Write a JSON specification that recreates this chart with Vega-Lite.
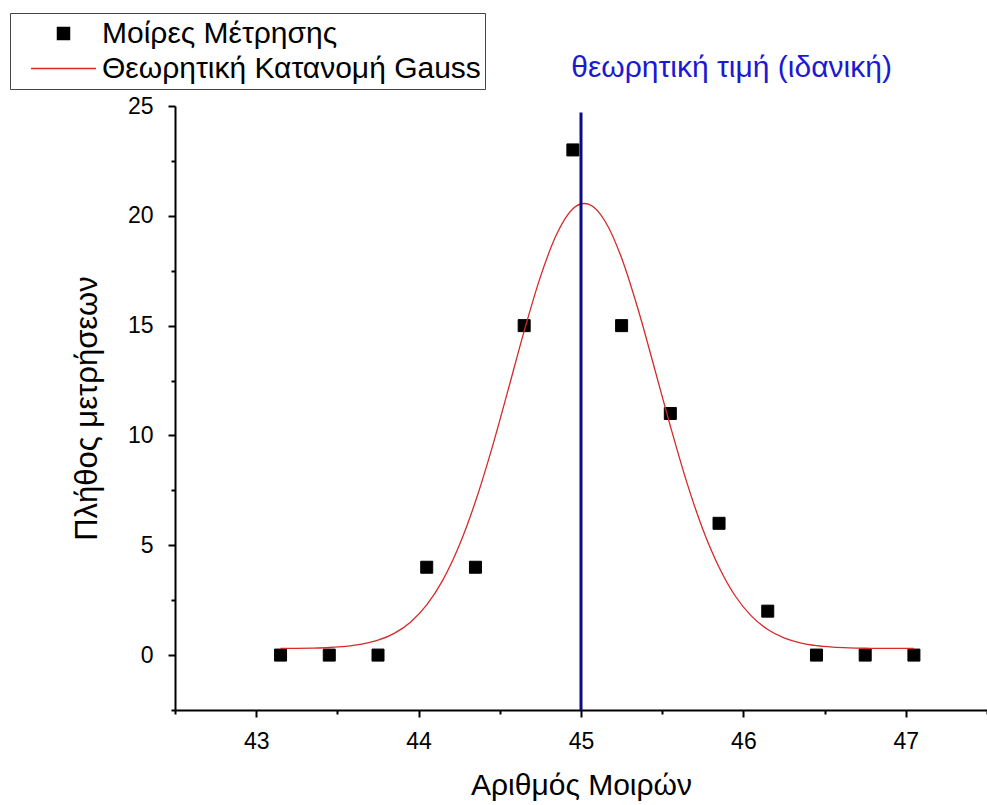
{
  "$schema": "https://vega.github.io/schema/vega-lite/v6.json",
  "width": 812,
  "height": 604,
  "autosize": {"type": "none"},
  "padding": {"left": 175, "top": 106, "right": 0, "bottom": 95},
  "background": "white",
  "config": {
    "view": {"stroke": null},
    "font": "Liberation Sans",
    "axis": {
      "grid": false,
      "domainColor": "black",
      "tickColor": "black",
      "domainWidth": 2,
      "tickWidth": 2,
      "labelColor": "black",
      "titleColor": "black",
      "labelFont": "Liberation Sans",
      "titleFont": "Liberation Sans",
      "titleFontWeight": "normal"
    },
    "legend": {"symbolStrokeWidth": 1.5}
  },
  "datasets": {
    "points": [
      {"x": 43.15, "y": 0, "series": "Μοίρες Μέτρησης"},
      {"x": 43.45, "y": 0, "series": "Μοίρες Μέτρησης"},
      {"x": 43.75, "y": 0, "series": "Μοίρες Μέτρησης"},
      {"x": 44.05, "y": 4, "series": "Μοίρες Μέτρησης"},
      {"x": 44.35, "y": 4, "series": "Μοίρες Μέτρησης"},
      {"x": 44.65, "y": 15, "series": "Μοίρες Μέτρησης"},
      {"x": 44.95, "y": 23, "series": "Μοίρες Μέτρησης"},
      {"x": 45.25, "y": 15, "series": "Μοίρες Μέτρησης"},
      {"x": 45.55, "y": 11, "series": "Μοίρες Μέτρησης"},
      {"x": 45.85, "y": 6, "series": "Μοίρες Μέτρησης"},
      {"x": 46.15, "y": 2, "series": "Μοίρες Μέτρησης"},
      {"x": 46.45, "y": 0, "series": "Μοίρες Μέτρησης"},
      {"x": 46.75, "y": 0, "series": "Μοίρες Μέτρησης"},
      {"x": 47.05, "y": 0, "series": "Μοίρες Μέτρησης"}
    ],
    "gauss": [
      {"x": 43.15, "y": 0.304, "series": "Θεωρητική Κατανομή Gauss"},
      {"x": 43.25, "y": 0.309, "series": "Θεωρητική Κατανομή Gauss"},
      {"x": 43.35, "y": 0.321, "series": "Θεωρητική Κατανομή Gauss"},
      {"x": 43.45, "y": 0.346, "series": "Θεωρητική Κατανομή Gauss"},
      {"x": 43.55, "y": 0.398, "series": "Θεωρητική Κατανομή Gauss"},
      {"x": 43.65, "y": 0.497, "series": "Θεωρητική Κατανομή Gauss"},
      {"x": 43.75, "y": 0.678, "series": "Θεωρητική Κατανομή Gauss"},
      {"x": 43.85, "y": 0.989, "series": "Θεωρητική Κατανομή Gauss"},
      {"x": 43.95, "y": 1.499, "series": "Θεωρητική Κατανομή Gauss"},
      {"x": 44.05, "y": 2.285, "series": "Θεωρητική Κατανομή Gauss"},
      {"x": 44.15, "y": 3.426, "series": "Θεωρητική Κατανομή Gauss"},
      {"x": 44.25, "y": 4.987, "series": "Θεωρητική Κατανομή Gauss"},
      {"x": 44.35, "y": 6.99, "series": "Θεωρητική Κατανομή Gauss"},
      {"x": 44.45, "y": 9.38, "series": "Θεωρητική Κατανομή Gauss"},
      {"x": 44.55, "y": 12.04, "series": "Θεωρητική Κατανομή Gauss"},
      {"x": 44.65, "y": 14.75, "series": "Θεωρητική Κατανομή Gauss"},
      {"x": 44.75, "y": 17.22, "series": "Θεωρητική Κατανομή Gauss"},
      {"x": 44.85, "y": 19.16, "series": "Θεωρητική Κατανομή Gauss"},
      {"x": 44.95, "y": 20.32, "series": "Θεωρητική Κατανομή Gauss"},
      {"x": 45.02, "y": 20.56, "series": "Θεωρητική Κατανομή Gauss"},
      {"x": 45.05, "y": 20.52, "series": "Θεωρητική Κατανομή Gauss"},
      {"x": 45.15, "y": 19.73, "series": "Θεωρητική Κατανομή Gauss"},
      {"x": 45.25, "y": 18.08, "series": "Θεωρητική Κατανομή Gauss"},
      {"x": 45.35, "y": 15.78, "series": "Θεωρητική Κατανομή Gauss"},
      {"x": 45.45, "y": 13.13, "series": "Θεωρητική Κατανομή Gauss"},
      {"x": 45.55, "y": 10.43, "series": "Θεωρητική Κατανομή Gauss"},
      {"x": 45.65, "y": 7.9, "series": "Θεωρητική Κατανομή Gauss"},
      {"x": 45.75, "y": 5.73, "series": "Θεωρητική Κατανομή Gauss"},
      {"x": 45.85, "y": 4.0, "series": "Θεωρητική Κατανομή Gauss"},
      {"x": 45.95, "y": 2.69, "series": "Θεωρητική Κατανομή Gauss"},
      {"x": 46.05, "y": 1.775, "series": "Θεωρητική Κατανομή Gauss"},
      {"x": 46.15, "y": 1.165, "series": "Θεωρητική Κατανομή Gauss"},
      {"x": 46.25, "y": 0.783, "series": "Θεωρητική Κατανομή Gauss"},
      {"x": 46.35, "y": 0.557, "series": "Θεωρητική Κατανομή Gauss"},
      {"x": 46.45, "y": 0.43, "series": "Θεωρητική Κατανομή Gauss"},
      {"x": 46.55, "y": 0.363, "series": "Θεωρητική Κατανομή Gauss"},
      {"x": 46.65, "y": 0.329, "series": "Θεωρητική Κατανομή Gauss"},
      {"x": 46.75, "y": 0.312, "series": "Θεωρητική Κατανομή Gauss"},
      {"x": 46.85, "y": 0.305, "series": "Θεωρητική Κατανομή Gauss"},
      {"x": 46.95, "y": 0.302, "series": "Θεωρητική Κατανομή Gauss"},
      {"x": 47.05, "y": 0.301, "series": "Θεωρητική Κατανομή Gauss"}
    ],
    "ideal": [
      {"x": 45.0, "y1": -2.5, "y2": 24.7, "label": "θεωρητική τιμή (ιδανική)", "labelX": 44.94, "labelY": 26.3}
    ]
  },
  "layer": [
    {
      "data": {"name": "points"},
      "mark": {"type": "point", "filled": true, "strokeWidth": 1, "opacity": 1},
      "encoding": {
        "x": {
          "field": "x", "type": "quantitative",
          "scale": {"domain": [42.5, 47.5], "nice": false, "zero": false},
          "axis": {"orient": "bottom", "values": [43, 44, 45, 46, 47], "tickSize": 7, "labelFontSize": 23, "labelPadding": 13, "title": "Αριθμός Μοιρών", "titleFontSize": 30, "titlePadding": 17, "format": "d"}
        },
        "y": {
          "field": "y", "type": "quantitative",
          "scale": {"domain": [-2.5, 25], "nice": false, "zero": false},
          "axis": {"orient": "left", "values": [0, 5, 10, 15, 20, 25], "tickSize": 7, "labelFontSize": 23, "labelPadding": 15, "title": "Πλήθος μετρήσεων", "titleFontSize": 31, "titlePadding": 24, "format": "d"}
        },
        "color": {
          "field": "series", "type": "nominal",
          "scale": {"domain": ["Μοίρες Μέτρησης", "Θεωρητική Κατανομή Gauss"], "range": ["black", "#d42a2a"]},
          "legend": {
            "title": null,
            "orient": "none",
            "legendX": -165,
            "legendY": -93,
            "padding": 4,
            "strokeColor": "#444444",
            "fillColor": "white",
            "labelFont": "Liberation Sans",
            "labelFontSize": 30,
            "labelColor": "black",
            "labelLimit": 600,
            "symbolOffset": 16,
            "labelOffset": 5,
            "clipHeight": 33,
            "rowPadding": 2
          }
        },
        "stroke": {
          "field": "series", "type": "nominal",
          "scale": {"domain": ["Μοίρες Μέτρησης", "Θεωρητική Κατανομή Gauss"], "range": ["black", "#d42a2a"]},
          "legend": {
            "title": null,
            "orient": "none",
            "legendX": -165,
            "legendY": -93
          }
        },
        "shape": {
          "field": "series", "type": "nominal",
          "scale": {"domain": ["Μοίρες Μέτρησης", "Θεωρητική Κατανομή Gauss"], "range": ["square", "stroke"]},
          "legend": {
            "title": null,
            "orient": "none",
            "legendX": -165,
            "legendY": -93
          }
        },
        "size": {
          "field": "series", "type": "nominal",
          "scale": {"domain": ["Μοίρες Μέτρησης", "Θεωρητική Κατανομή Gauss"], "range": [144, 4225]},
          "legend": {
            "title": null,
            "orient": "none",
            "legendX": -165,
            "legendY": -93
          }
        }
      }
    },
    {
      "data": {"name": "gauss"},
      "mark": {"type": "line", "strokeWidth": 1.3, "interpolate": "monotone"},
      "encoding": {
        "x": {
          "field": "x", "type": "quantitative",
          "axis": {"orient": "bottom", "values": [42.5, 43.5, 44.5, 45.5, 46.5, 47.5], "tickSize": 4, "labels": false, "domain": false, "title": null}
        },
        "y": {
          "field": "y", "type": "quantitative",
          "axis": {"orient": "left", "values": [-2.5, 2.5, 7.5, 12.5, 17.5, 22.5], "tickSize": 4, "labels": false, "domain": false, "title": null}
        },
        "color": {"field": "series", "type": "nominal"}
      }
    },
    {
      "data": {"name": "ideal"},
      "mark": {"type": "rule", "color": "#0c0c86", "strokeWidth": 3},
      "encoding": {
        "x": {"field": "x", "type": "quantitative", "axis": null},
        "y": {"field": "y1", "type": "quantitative", "axis": null},
        "y2": {"field": "y2"}
      }
    },
    {
      "data": {"name": "ideal"},
      "mark": {"type": "text", "color": "#1a1ad2", "fontSize": 30, "font": "Liberation Sans", "align": "left", "baseline": "alphabetic"},
      "encoding": {
        "x": {"field": "labelX", "type": "quantitative", "axis": null},
        "y": {"field": "labelY", "type": "quantitative", "axis": null},
        "text": {"field": "label"}
      }
    }
  ],
  "resolve": {"axis": {"x": "independent", "y": "independent"}}
}
